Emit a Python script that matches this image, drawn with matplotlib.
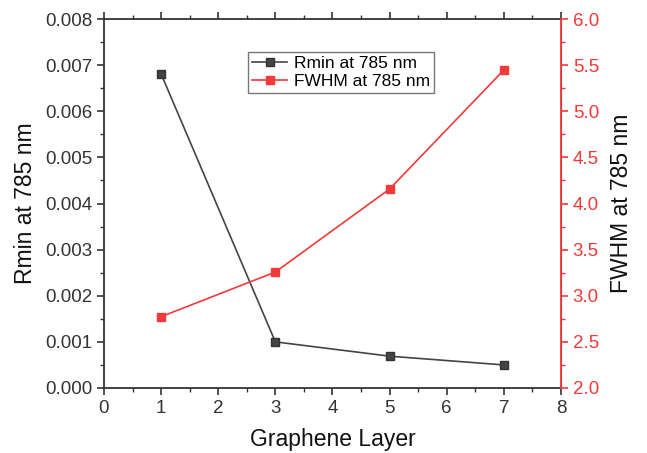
import matplotlib.pyplot as plt
from matplotlib.ticker import MultipleLocator

plt.rcParams['font.family'] = ['Liberation Sans', 'DejaVu Sans']

layers = [1, 3, 5, 7]
rmin = [0.00681, 0.0010, 0.00069, 0.0005]
fwhm = [2.773, 3.257, 4.157, 5.447]

black = '#444444'
red = '#f23a3a'

fig = plt.figure(figsize=(6.47, 4.53), dpi=100)
ax = fig.add_axes([0.1607, 0.1435, 0.7063, 0.8145])
ax2 = ax.twinx()

l1, = ax.plot(layers, rmin, color=black, marker='s', markersize=6, lw=1.2,
              markeredgecolor='#333333', label='Rmin at 785 nm')
l2, = ax2.plot(layers, fwhm, color=red, marker='s', markersize=6, lw=1.2,
               markeredgecolor=red, label='FWHM at 785 nm')

ax.set_xlim(0, 8)
ax.set_ylim(0, 0.008)
ax2.set_ylim(2.0, 6.0)

ax.xaxis.set_major_locator(MultipleLocator(1))
ax.xaxis.set_minor_locator(MultipleLocator(0.5))
ax.yaxis.set_major_locator(MultipleLocator(0.001))
ax.yaxis.set_minor_locator(MultipleLocator(0.0005))
ax2.yaxis.set_major_locator(MultipleLocator(0.5))
ax2.yaxis.set_minor_locator(MultipleLocator(0.25))

ax.yaxis.set_major_formatter(plt.FuncFormatter(lambda v, p: f'{v:.3f}'))
ax2.yaxis.set_major_formatter(plt.FuncFormatter(lambda v, p: f'{v:.1f}'))

ax.tick_params(axis='x', which='both', direction='out', top=True, labelsize=13.5, colors='#333333')
ax.tick_params(axis='y', which='both', direction='out', labelsize=13.5, colors='#333333')
ax.tick_params(which='major', length=5, width=1.2)
ax.tick_params(which='minor', length=3, width=1)
ax2.tick_params(axis='y', which='both', direction='out', labelsize=13.5, colors=red)
ax2.tick_params(which='major', length=5, width=1.2)
ax2.tick_params(which='minor', length=3, width=1)

for s in ['left', 'bottom', 'top']:
    ax.spines[s].set_color('#333333')
    ax.spines[s].set_linewidth(1.3)
ax2.spines['right'].set_color(red)
ax2.spines['right'].set_linewidth(1.3)
ax2.spines['left'].set_visible(False)
ax2.spines['top'].set_visible(False)
ax2.spines['bottom'].set_visible(False)

ax.set_xlabel('Graphene Layer', fontsize=16.5, color='#111111', labelpad=8)
ax.set_ylabel('Rmin at 785 nm', fontsize=16.5, color='#111111', labelpad=6)
ax2.set_ylabel('FWHM at 785 nm', fontsize=16.5, color='#111111', labelpad=8)

leg = ax.legend(handles=[l1, l2], loc='upper center', bbox_to_anchor=(0.519, 0.935),
                fontsize=12.5, frameon=True, fancybox=False, handlelength=2,
                borderpad=0.25, labelspacing=0.15, handletextpad=0.4)
leg.get_frame().set_edgecolor('#555555')
leg.get_frame().set_linewidth(1)

fig.savefig('out.png', dpi=100)
